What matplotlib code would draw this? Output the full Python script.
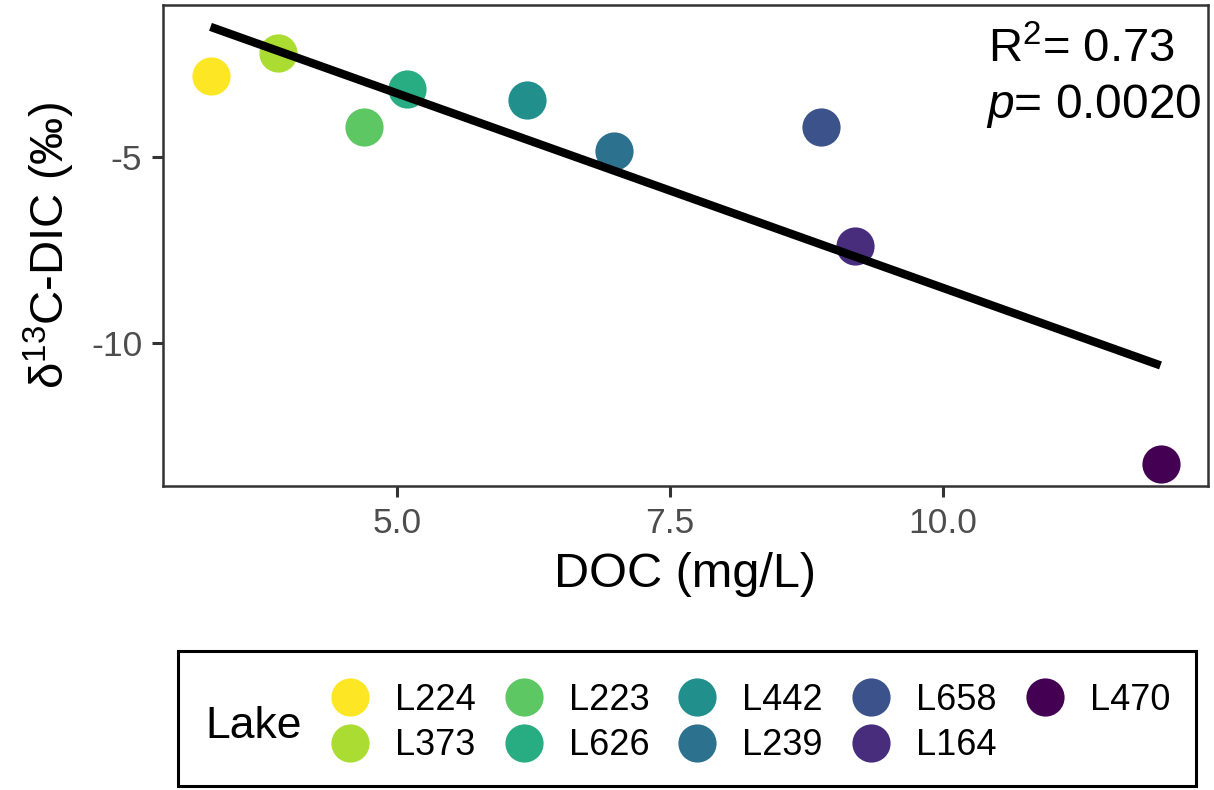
import numpy as np
import matplotlib
matplotlib.use("Agg")
import matplotlib.pyplot as plt
from matplotlib.lines import Line2D
from matplotlib.patches import Rectangle

plt.rcParams['font.family'] = ['Liberation Sans', 'DejaVu Sans']
plt.rcParams['mathtext.fontset'] = 'custom'
plt.rcParams['mathtext.rm'] = 'Liberation Sans'
plt.rcParams['mathtext.it'] = 'Liberation Sans:italic'
plt.rcParams['axes.unicode_minus'] = False

# ---- data ----
lakes = ["L224", "L373", "L223", "L626", "L442", "L239", "L658", "L164", "L470"]
doc = [3.295, 3.91, 4.70, 5.09, 6.19, 6.99, 8.886, 9.195, 11.99]
d13c = [-2.83, -2.22, -4.20, -3.18, -3.48, -4.84, -4.20, -7.38, -13.24]
colors = ["#FDE725", "#AADC32", "#5DC863", "#27AD81", "#21908C",
          "#2C728E", "#3B528B", "#472D7B", "#440154"]
xticks = [5.0, 7.5, 10.0]
xticklabels = ["5.0", "7.5", "10.0"]
yticks = [-10, -5]
yticklabels = ["-10", "-5"]
r2_text = "R$^{2}$= 0.73"
p_text = "$p$= 0.0020"

W, H = 1214, 790
fig = plt.figure(figsize=(W / 100, H / 100), dpi=100)

# axes placement in pixels
L, R, T, B = 163, 1208, 5, 486
ax = fig.add_axes([L / W, 1 - B / H, (R - L) / W, (B - T) / H])

x = np.array(doc)
y = np.array(d13c)
slope, intercept = np.polyfit(x, y, 1)
xl = np.array([x.min(), x.max()])

for xi, yi, c in zip(x, y, colors):
    ax.scatter([xi], [yi], s=27.5 ** 2, color=c, linewidths=0, zorder=3)
ax.plot(xl, slope * xl + intercept, color="black", lw=6, zorder=4,
        solid_capstyle="butt")

# ggplot-like expansion (5%)
yall = np.concatenate([y, slope * xl + intercept])
xr = x.max() - x.min()
yr = yall.max() - yall.min()
ax.set_xlim(x.min() - 0.05 * xr, x.max() + 0.05 * xr)
ax.set_ylim(yall.min() - 0.05 * yr, yall.max() + 0.05 * yr)

ax.set_xticks(xticks)
ax.set_xticklabels(xticklabels)
ax.set_yticks(yticks)
ax.set_yticklabels(yticklabels)
ax.tick_params(axis="both", length=8, width=2.2, color="#333333",
               labelsize=25.5, labelcolor="#4D4D4D", pad=7)
for sp in ax.spines.values():
    sp.set_linewidth(1.8)
    sp.set_color("#333333")

ax.set_xlabel("DOC (mg/L)", fontsize=35, labelpad=9)
ax.set_ylabel("δ$^{13}$C-DIC (‰)", fontsize=34, labelpad=10)

fig.text(988 / W, 1 - 62 / H, r2_text, ha="left", va="baseline", fontsize=34)
fig.text(986 / W, 1 - 118 / H, p_text, ha="left", va="baseline", fontsize=34.5)

# legend
handles = [Line2D([], [], ls="none", marker="o", markersize=27.5,
                  markerfacecolor=c, markeredgewidth=0) for c in colors]
leg = fig.legend(handles, lakes, ncol=5, loc="center",
                 bbox_to_anchor=(751 / W, 1 - 723 / H), frameon=False,
                 fontsize=26, handlelength=1.0, handletextpad=0.745,
                 columnspacing=0.83, labelspacing=0.285, borderpad=0.2)
fig.text(205 / W, 1 - 738 / H, "Lake", fontsize=32, ha="left", va="baseline")
fig.patches.append(Rectangle((178 / W, 1 - 786 / H), (1196 - 178) / W, (786 - 651) / H,
                             transform=fig.transFigure, fill=False,
                             edgecolor="black", linewidth=2.2))

fig.savefig("out.png", dpi=100)
